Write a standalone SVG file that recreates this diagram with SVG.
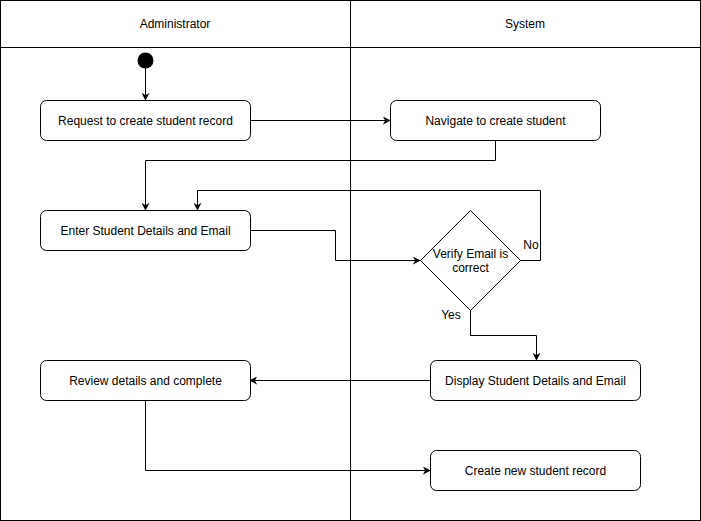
<svg xmlns="http://www.w3.org/2000/svg" width="701" height="521" viewBox="0 0 701 521">
<style>
.lane{fill:none;stroke:#000;stroke-width:1}
.node{fill:#fff;stroke:#000;stroke-width:1}
.t{font-family:"Liberation Sans",Arial,sans-serif;font-size:12px;fill:#000;text-anchor:middle;dominant-baseline:central}
.c{fill:none;stroke:#000;stroke-width:1}
</style>
<defs>
<marker id="ah" viewBox="0 0 10 10" refX="9" refY="5" markerWidth="8" markerHeight="8" markerUnits="userSpaceOnUse" orient="auto">
<path d="M0,0 L10,5 L0,10 L3,5 Z" fill="#000"/>
</marker>
</defs>
<rect width="701" height="521" fill="#fff"/>
<g id="lanes">
<rect class="lane" x="0.5" y="0.5" width="700" height="520"/>
<line class="lane" x1="0.5" y1="47.5" x2="700.5" y2="47.5"/>
<line class="lane" x1="350.5" y1="0.5" x2="350.5" y2="520.5"/>
<text class="t" x="175" y="24">Administrator</text>
<text class="t" x="525" y="24">System</text>
</g>
<g id="connectors">
<path class="c" d="M145.5,68 V100" marker-end="url(#ah)"/>
<path class="c" d="M250,120.5 H390" marker-end="url(#ah)"/>
<path class="c" d="M495.5,140 V160.5 H145.5 V210" marker-end="url(#ah)"/>
<path class="c" d="M250,230.5 H335.5 V260.5 H420" marker-end="url(#ah)"/>
<path class="c" d="M520,260.5 H540.5 V190.5 H197.5 V210" marker-end="url(#ah)"/>
<path class="c" d="M470.5,310 V335.5 H536.5 V360" marker-end="url(#ah)"/>
<path class="c" d="M430,380.5 H250" marker-end="url(#ah)"/>
<path class="c" d="M145.5,400 V470.5 H430" marker-end="url(#ah)"/>
<text class="t" x="531" y="245">No</text>
<text class="t" x="451" y="315">Yes</text>
</g>
<g id="start"><circle cx="145.5" cy="60.5" r="8" fill="#000"/></g>
<g id="n1"><rect class="node" x="40.5" y="100.5" width="210" height="40" rx="6"/><text class="t" x="145.5" y="120.5">Request to create student record</text></g>
<g id="n2"><rect class="node" x="390.5" y="100.5" width="210" height="40" rx="6"/><text class="t" x="495.5" y="120.5">Navigate to create student</text></g>
<g id="n3"><rect class="node" x="40.5" y="210.5" width="210" height="40" rx="6"/><text class="t" x="145.5" y="230.5">Enter Student Details and Email</text></g>
<g id="d1"><path class="node" d="M470.5,210.5 L520.5,260.5 L470.5,310.5 L420.5,260.5 Z"/><text class="t" x="470.5" y="254">Verify Email is</text><text class="t" x="470.5" y="268">correct</text></g>
<g id="n4"><rect class="node" x="430.5" y="360.5" width="210" height="40" rx="6"/><text class="t" x="535.5" y="380.5">Display Student Details and Email</text></g>
<g id="n5"><rect class="node" x="40.5" y="360.5" width="210" height="40" rx="6"/><text class="t" x="145.5" y="380.5">Review details and complete</text></g>
<g id="n6"><rect class="node" x="430.5" y="450.5" width="210" height="40" rx="6"/><text class="t" x="535.5" y="470.5">Create new student record</text></g>
</svg>
